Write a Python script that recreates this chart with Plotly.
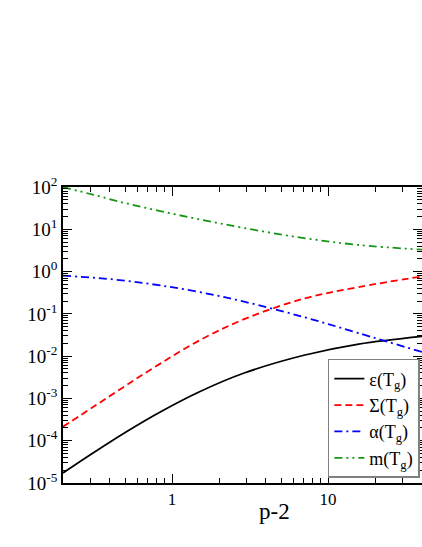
import numpy as np
import plotly.graph_objects as go

# values (log-log)
p2 = [0.2, 0.315, 0.51, 0.84, 1.5, 2.9, 7.0, 15.7, 40.0]
eps = [1.73e-5, 5.26e-5, 1.63e-4, 4.78e-4, 1.44e-3, 3.99e-3, 0.0105, 0.0193, 0.0294]
sigma = [2.15e-4, 6.4e-4, 2.06e-3, 6.65e-3, 0.0236, 0.075, 0.229, 0.43, 0.77]
alpha = [0.80, 0.714, 0.604, 0.47, 0.328, 0.194, 0.0838, 0.035, 0.0125]
mass = [100, 65, 41, 26.9, 17.2, 10.7, 6.2, 4.26, 3.3]

y_exps = [-5, -4, -3, -2, -1, 0, 1, 2]
x_major = [1, 10]
x_labels = ["1", "10"]

FONT = "Liberation Serif"

fig = go.Figure()

series = [
    ("ε(T<sub>g</sub>)", eps, "black", "solid"),
    ("Σ(T<sub>g</sub>)", sigma, "red", "7px,4px"),
    ("α(T<sub>g</sub>)", alpha, "blue", "8px,4px,2px,4px"),
    ("m(T<sub>g</sub>)", mass, "rgb(20,150,20)", "8px,4px,2px,4px,2px,4px"),
]
for name, ys, color, dash in series:
    fig.add_trace(go.Scatter(
        x=p2, y=ys, name=name, mode="lines",
        line=dict(color=color, width=1.8, dash=dash, shape="spline", smoothing=1),
    ))

# minor tick positions
x_minor = [m * 10.0 ** e for e in (-1, 0, 1) for m in range(2, 10)]
x_minor = [v for v in x_minor if 0.2 <= v <= 40]
y_minor = [m * 10.0 ** e for e in range(-5, 2) for m in range(2, 10)]

fig.update_xaxes(
    type="log", range=[np.log10(0.2), np.log10(40)],
    tickvals=x_major, ticktext=x_labels,
    ticks="inside", ticklen=9, tickwidth=1, tickcolor="black",
    minor=dict(tickvals=x_minor, ticks="inside", ticklen=5, tickcolor="black"),
    showline=True, linecolor="black", linewidth=1.5, mirror="ticks",
    showgrid=False, zeroline=False,
    tickfont=dict(family=FONT, size=17, color="black"),
)
fig.update_yaxes(
    type="log", range=[-5, 2],
    tickvals=[10.0 ** e for e in y_exps],
    ticktext=[f"10<sup>{e}</sup>" for e in y_exps],
    ticks="inside", ticklen=9, tickwidth=1, tickcolor="black",
    minor=dict(tickvals=y_minor, ticks="inside", ticklen=5, tickcolor="black"),
    showline=True, linecolor="black", linewidth=1.5, mirror="ticks",
    showgrid=False, zeroline=False,
    tickfont=dict(family=FONT, size=19, color="black"),
)

# axis title as annotation (sits off-centre in the original)
fig.add_annotation(
    text="p-2", xref="paper", yref="paper", x=0.588, y=0,
    xanchor="center", yanchor="top", yshift=-14, showarrow=False,
    font=dict(family=FONT, size=23, color="black"),
)

fig.update_layout(
    width=422, height=547,
    margin=dict(l=63, r=0, t=187, b=64, autoexpand=False),
    paper_bgcolor="white", plot_bgcolor="white",
    font=dict(family=FONT, color="black"),
    legend=dict(
        x=0.994, y=0.017, xanchor="right", yanchor="bottom",
        bgcolor="white", bordercolor="gray", borderwidth=1.5,
        font=dict(family=FONT, size=18, color="black"),
        tracegroupgap=0, itemwidth=30,
    ),
)

fig.write_html(
    "out.html",
    config={"displayModeBar": False},
    post_script="document.body.style.margin='0';document.body.style.overflow='hidden';",
)
